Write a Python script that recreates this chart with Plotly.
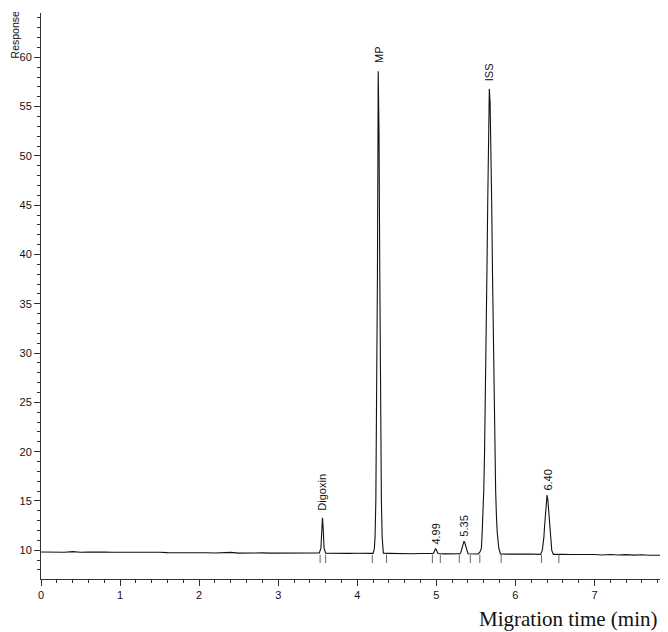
import plotly.graph_objects as go

# ---------------- data ----------------
base_t = [round(0.1 * i, 1) for i in range(80)]
base_y = [9.82, 9.80, 9.83, 9.79, 9.86, 9.80, 9.82, 9.78, 9.81, 9.79,
          9.80, 9.77, 9.80, 9.78, 9.77, 9.79, 9.76, 9.77, 9.74, 9.76,
          9.73, 9.75, 9.72, 9.74, 9.78, 9.71, 9.74, 9.72, 9.73, 9.71,
          9.72, 9.70, 9.72, 9.69, 9.71, 9.70, 9.71, 9.68, 9.70, 9.68,
          9.69, 9.67, 9.68, 9.66, 9.68, 9.65, 9.67, 9.64, 9.66, 9.64,
          9.65, 9.63, 9.65, 9.63, 9.64, 9.62, 9.63, 9.61, 9.63, 9.60,
          9.62, 9.59, 9.61, 9.58, 9.60, 9.57, 9.59, 9.56, 9.58, 9.53,
          9.57, 9.52, 9.56, 9.51, 9.55, 9.50, 9.54, 9.49, 9.52, 9.48]

dig_t = [3.52, 3.54, 3.55, 3.56, 3.57, 3.58, 3.60]
dig_y = [9.72, 10.2, 12.1, 13.3, 12.1, 10.2, 9.71]

mp_t = [4.20, 4.215, 4.225, 4.235, 4.245, 4.255, 4.265, 4.275, 4.285, 4.295, 4.305, 4.315, 4.33]
mp_y = [9.68, 10.1, 11.3, 15.1, 23.8, 37.8, 58.6, 52.3, 37.8, 23.8, 15.1, 11.3, 9.70]

p499_t = [4.96, 4.97, 4.98, 4.99, 5.00, 5.01, 5.02]
p499_y = [9.66, 9.78, 9.95, 10.17, 10.05, 9.85, 9.66]

p535_t = [5.30, 5.31, 5.32, 5.33, 5.34, 5.35, 5.36, 5.37, 5.38, 5.39, 5.40]
p535_y = [9.64, 9.80, 10.09, 10.43, 10.76, 10.92, 10.76, 10.43, 10.09, 9.80, 9.64]

iss_t = [5.53, 5.55, 5.57, 5.58, 5.59, 5.60, 5.61, 5.62, 5.63, 5.64, 5.65, 5.66, 5.67,
         5.68, 5.69, 5.70, 5.71, 5.72, 5.73, 5.74, 5.75, 5.76, 5.77, 5.79, 5.81]
iss_y = [9.63, 9.80, 10.2, 11.8, 13.5, 16.1, 19.9, 25.0, 31.3, 38.3, 45.3, 51.3, 56.8,
         55.4, 51.3, 45.3, 38.3, 31.3, 25.0, 19.9, 16.1, 13.5, 11.8, 10.2, 9.63]

p640_t = [6.32, 6.34, 6.35, 6.36, 6.37, 6.38, 6.39, 6.40, 6.41, 6.42, 6.43, 6.44, 6.45, 6.46, 6.48]
p640_y = [9.60, 9.98, 10.45, 11.3, 12.55, 13.97, 15.14, 15.6, 15.14, 13.97, 12.55, 11.3, 10.45, 9.98, 9.58]

peak_labels = ["Digoxin", "MP", "4.99", "5.35", "ISS", "6.40"]
peak_times = [3.56, 4.265, 4.99, 5.35, 5.67, 6.40]
peak_tops = [13.3, 58.6, 10.17, 10.92, 56.8, 15.6]

integ_marks = [3.53, 3.60, 4.19, 4.37, 4.95, 5.05, 5.29, 5.43, 5.55, 5.82, 6.33, 6.55]

x_title = "Migration time (min)"
y_title = "Response"

# ---------------- assemble trace ----------------
peaks = [(dig_t, dig_y), (mp_t, mp_y), (p499_t, p499_y), (p535_t, p535_y),
         (iss_t, iss_y), (p640_t, p640_y)]
windows = [(min(t), max(t)) for t, _ in peaks]
pts = [(t, y) for t, y in zip(base_t, base_y)
       if not any(a <= t <= b for a, b in windows)]
for t_list, y_list in peaks:
    pts += list(zip(t_list, y_list))
pts.sort()
xs = [p[0] for p in pts]
ys = [p[1] for p in pts]

fig = go.Figure()
fig.add_trace(go.Scatter(x=xs, y=ys, mode="lines",
                         line=dict(color="#111111", width=1.1),
                         hoverinfo="skip", showlegend=False))

# integration marks
for t in integ_marks:
    fig.add_shape(type="line", xref="x", yref="y", x0=t, x1=t, y0=9.55, y1=8.7,
                  line=dict(color="#666666", width=1))

# peak labels
big = {"Digoxin": 5, "MP": 6, "ISS": 6}
for lab, t, top in zip(peak_labels, peak_times, peak_tops):
    fig.add_annotation(x=t, y=top, xref="x", yref="y", text=lab, showarrow=False,
                       textangle=-90, xanchor="center", yanchor="bottom",
                       yshift=big.get(lab, 2),
                       font=dict(family="Liberation Sans, Arial", size=11, color="#111111"))

fig.add_annotation(text=y_title, xref="paper", yref="paper", x=-0.041, y=1.006,
                   xanchor="center", yanchor="top", textangle=-90, showarrow=False,
                   font=dict(family="Liberation Sans, Arial", size=10.5, color="#111111"))
fig.add_annotation(text=x_title, xref="paper", yref="paper", x=0.8405, y=-0.071,
                   xanchor="center", yanchor="middle", showarrow=False,
                   font=dict(family="Liberation Serif, Times New Roman", size=21, color="#111111"))

axis_common = dict(showline=True, linecolor="#333333", linewidth=1, ticks="outside",
                   tickcolor="#333333", ticklen=6, tickwidth=1, showgrid=False,
                   zeroline=False, tickfont=dict(family="Liberation Sans, Arial", size=11,
                                                 color="#111111"))
fig.update_xaxes(range=[0, 7.93], dtick=1, tick0=0,
                 minor=dict(dtick=0.2, ticks="outside", ticklen=3, tickcolor="#333333"),
                 **axis_common)
fig.update_yaxes(range=[7.08, 64.5], dtick=5, tick0=0,
                 minor=dict(dtick=1, ticks="outside", ticklen=3, tickcolor="#333333"),
                 **axis_common)

# page body adds an 8px offset, so the figure is 660x624 to fill the 668x632 window
fig.update_layout(width=660, height=624, margin=dict(l=33, r=0, t=5, b=53),
                  plot_bgcolor="white", paper_bgcolor="white")

fig.write_html("out.html")
